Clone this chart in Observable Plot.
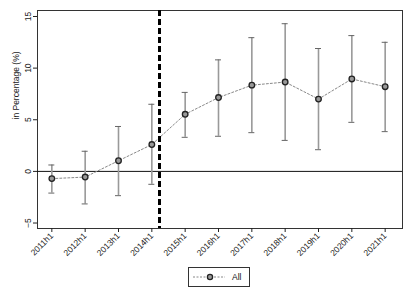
<!DOCTYPE html>
<html><head><meta charset="utf-8">
<script src="https://cdn.jsdelivr.net/npm/d3@7"></script>
<script src="https://cdn.jsdelivr.net/npm/@observablehq/plot@0.6"></script>
<style>
body{margin:0;background:#fff;font-family:"Liberation Sans",Arial,sans-serif;}
#wrap{width:413px;}
#legend{position:relative;height:35px;}
#legend .box{position:absolute;left:188px;top:2px;width:62px;height:20px;border:1px solid #333;box-sizing:border-box;display:flex;align-items:center;font-size:8.5px;color:#111;}
</style></head><body>
<div id="wrap"><div id="chart"></div><div id="legend"><div class="box"><svg width="40" height="18"><line x1="4" x2="36" y1="9" y2="9" stroke="#888" stroke-dasharray="2,1.5"/><circle cx="21" cy="9" r="2.6" fill="#999" stroke="#222" stroke-width="1.3"/></svg><span style="margin-left:3px">All</span></div></div></div>
<script>
const periods = ["2011h1","2012h1","2013h1","2014h1","2015h1","2016h1","2017h1","2018h1","2019h1","2020h1","2021h1"];
const estimate = [-0.7,-0.55,1.03,2.6,5.53,7.15,8.35,8.65,7.0,8.95,8.2];
const upper = [0.62,1.95,4.35,6.5,7.65,10.8,12.95,14.3,11.9,13.15,12.5];
const lower = [-2.1,-3.15,-2.35,-1.25,3.3,3.4,3.75,3.0,2.1,4.75,3.85];
const yTicks = [-5,0,5,10,15];
const breakAt = 3.23;
const capHalf = 0.09;

const data = periods.map((p,i)=>({idx: i, p, est: estimate[i], hi: upper[i], lo: lower[i]}));
const idxs = periods.map((p,i)=>i);

const chart = Plot.plot({
  width: 413, height: 265,
  marginLeft: 37, marginRight: 11, marginTop: 10, marginBottom: 37,
  style: {fontFamily: '"Liberation Sans", Arial, sans-serif', fontSize: "8.5px", color: "#222", background: "#fff"},
  x: {type: "linear", domain: [-0.43, 10.52], axis: null},
  y: {type: "linear", domain: [-5.53, 15.58], axis: null},
  marks: [
    Plot.frame({stroke: "#333", strokeWidth: 1}),
    Plot.ruleY([0], {stroke: "#111", strokeWidth: 1}),
    Plot.ruleX(data, {x: "idx", y1: "lo", y2: "hi", stroke: "#999", strokeWidth: 1.6}),
    Plot.ruleY(data, {y: "hi", x1: d => d.idx - capHalf, x2: d => d.idx + capHalf, stroke: "#666", strokeWidth: 1}),
    Plot.ruleY(data, {y: "lo", x1: d => d.idx - capHalf, x2: d => d.idx + capHalf, stroke: "#666", strokeWidth: 1}),
    Plot.line(data, {x: "idx", y: "est", stroke: "#888", strokeWidth: 1, strokeDasharray: "2,2"}),
    Plot.ruleX([breakAt], {stroke: "#000", strokeWidth: 3, strokeDasharray: "6,3"}),
    Plot.dot(data, {x: "idx", y: "est", r: 2.8, fill: "#999", stroke: "#222", strokeWidth: 1.3}),
    Plot.axisX(idxs, {tickFormat: i => periods[i], tickRotate: -45, tickSize: 4, tickPadding: 2, label: null, fill: "#222"}),
    Plot.axisY(yTicks, {tickRotate: -90, tickSize: 4, tickPadding: 3, label: null, fill: "#222"}),
    Plot.text(["in Percentage (%)"], {frameAnchor: "left", dx: -21, rotate: -90, fill: "#222"})
  ]
});
document.getElementById("chart").appendChild(chart);
</script>
</body></html>
